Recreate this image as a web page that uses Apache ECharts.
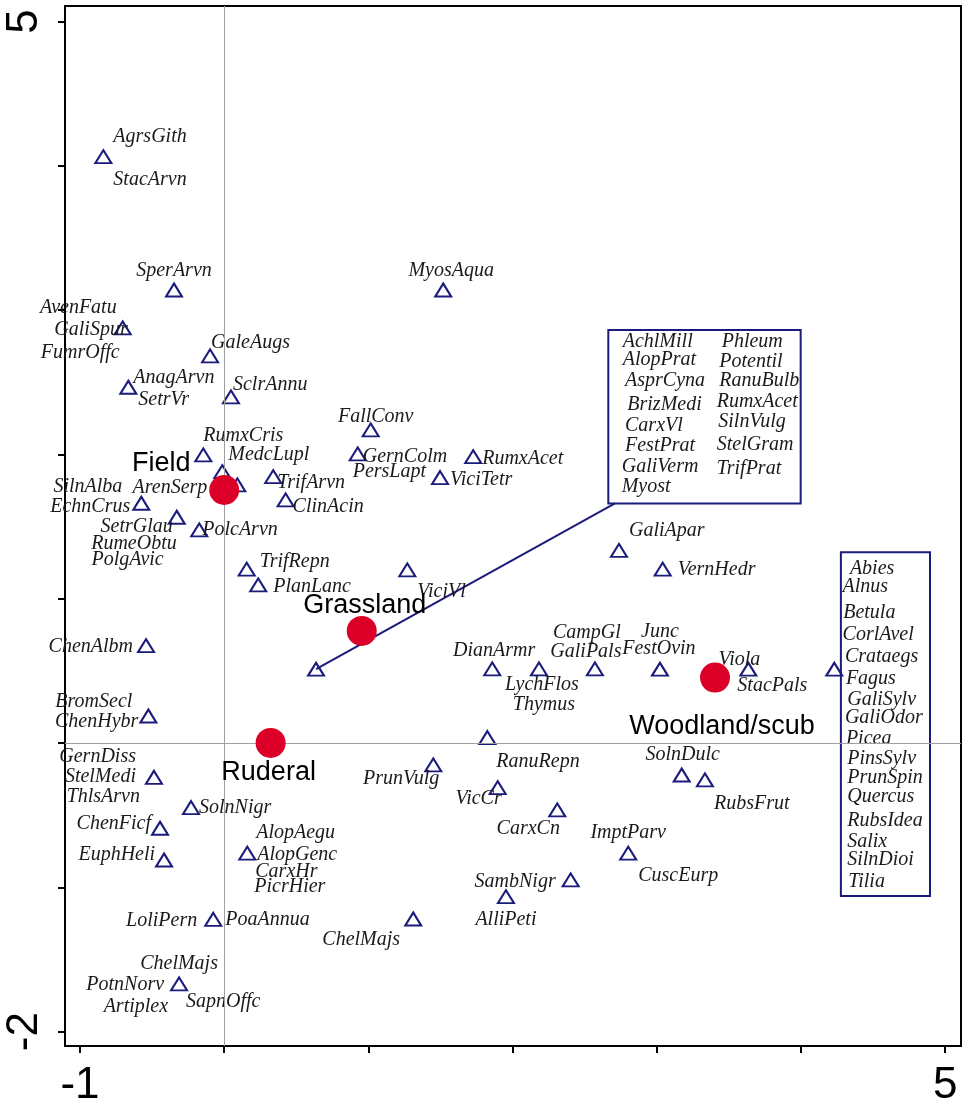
<!DOCTYPE html>
<html>
<head>
<meta charset="utf-8">
<script src="https://cdn.jsdelivr.net/npm/echarts@6/dist/echarts.min.js"></script>
<style>
html,body{margin:0;padding:0;background:#fff;}
#chart{width:967px;height:1108px;}
</style>
</head>
<body>
<div id="chart"></div>
<script>
// ---------------- DATA ----------------
// species points (ordination scores)
const speciesX = [-0.838,-0.348,-0.704,-0.098,-0.665,0.047,-0.145,-0.013,0.091,0.340,0.426,-0.575,-0.329,-0.173,0.156,0.236,-0.542,-0.526,0.637,1.519,1.016,0.926,1.727,1.497,1.270,2.738,3.041,1.859,2.183,2.571,3.022,3.635,4.231,1.825,1.450,1.897,2.310,2.802,2.403,1.954,1.311,3.173,3.334,-0.487,-0.230,-0.445,-0.417,0.160,-0.076,-0.313];
const speciesY = [4.063,3.139,2.876,2.682,2.465,2.398,1.996,1.880,1.788,1.845,1.684,1.661,1.564,1.476,1.204,1.095,0.674,0.187,0.511,3.139,2.169,2.003,1.984,1.839,1.199,1.334,1.204,0.513,0.513,0.513,0.511,0.511,0.511,0.037,-0.152,-0.310,-0.464,-0.764,-0.949,-1.065,-1.220,-0.222,-0.256,-0.238,-0.448,-0.591,-0.811,-0.764,-1.222,-1.670];
const speciesNames = [
 ['AgrsGith','StacArvn'],['SperArvn'],['AvenFatu','GaliSpur','FumrOffc'],['GaleAugs'],
 ['AnagArvn','SetrVr'],['SclrAnnu'],['RumxCris'],['MedcLupl'],['ArenSerp'],['TrifArvn'],
 ['ClinAcin'],['SilnAlba','EchnCrus'],['SetrGlau','RumeObtu','PolgAvic'],['PolcArvn'],
 ['TrifRepn'],['PlanLanc'],['ChenAlbm'],['BromSecl','ChenHybr'],[],['MyosAqua'],
 ['FallConv'],['GernColm','PersLapt'],['RumxAcet'],['ViciTetr'],['ViciVl'],['GaliApar'],
 ['VernHedr'],['DianArmr'],['LychFlos','Thymus'],['CampGl','GaliPals'],['Junc','FestOvin'],
 ['Viola','StacPals'],[],['RanuRepn'],['PrunVulg'],['VicCr'],['CarxCn'],['ImptParv','CuscEurp'],
 ['SambNigr'],['AlliPeti'],['ChelMajs'],['SolnDulc'],['RubsFrut'],['GernDiss','StelMedi','ThlsArvn'],
 ['SolnNigr'],['ChenFicf'],['EuphHeli'],['AlopAegu','AlopGenc','CarxHr','PicrHier'],
 ['LoliPern','PoaAnnua'],['ChelMajs','PotnNorv','Artiplex','SapnOffc']
];
// species groups listed in boxes
const grasslandGroupCol1 = ['AchlMill','AlopPrat','AsprCyna','BrizMedi','CarxVl','FestPrat','GaliVerm','Myost'];
const grasslandGroupCol2 = ['Phleum','Potentil','RanuBulb','RumxAcet','SilnVulg','StelGram','TrifPrat'];
const woodlandGroup = ['Abies','Alnus','Betula','CorlAvel','Crataegs','Fagus','GaliSylv','GaliOdor','Picea','PinsSylv','PrunSpin','Quercus','RubsIdea','Salix','SilnDioi','Tilia'];
const grasslandGroupPoint = 18; // index of point the grassland box refers to
// habitat centroids
const centroidNames = ['Field','Grassland','Ruderal','Woodland/scub'];
const centroidX = [0.0, 0.954, 0.322, 3.404];
const centroidY = [1.753, 0.776, 0.0, 0.453];
// tick labels
const xTickValues = [-1,0,1,2,3,4,5];
const xTickLabels = [-1,5];
const yTickValues = [-2,-1,0,1,2,3,4,5];
const yTickLabels = [-2,5];

// ---------------- LAYOUT (pixels / data extents) ----------------
const labelLayout = [
 [[10,-20,'l'],[10,23,'l']],[[0,-19,'c']],[[-6,-20,'r'],[5,2,'r'],[-3,25,'r']],[[1,-13,'l']],
 [[5,-10,'l'],[10,12,'l']],[[2,-12,'l']],[[0,-19,'l']],[[6,-17,'l']],[[-30,3,'r']],[[4,6,'l']],
 [[7,7,'l']],[[-19,-17,'r'],[-11,3,'r']],[[-4,9,'r'],[0,26,'r'],[-13,42,'r']],[[3,0,'l']],
 [[13,-7,'l']],[[15,2,'l']],[[-13,1,'r']],[[-16,-14,'r'],[-10,6,'r']],[],[[8,-19,'c']],
 [[5,-13,'c']],[[5,3,'l'],[-5,18,'l']],[[9,2,'l']],[[10,2,'l']],[[10,22,'l']],[[10,-20,'l']],
 [[15,1,'l']],[[2,-18,'c']],[[3,16,'c'],[5,36,'c']],[[-8,-36,'c'],[-9,-17,'c']],[[0,-37,'c'],[-1,-20,'c']],
 [[-9,-9,'c'],[-11,17,'l']],[],[[9,24,'l']],[[6,14,'r']],[[4,11,'r']],[[-29,19,'c']],[[0,-20,'c'],[10,23,'l']],
 [[-15,2,'r']],[[0,23,'c']],[[-52,21,'c']],[[1,-20,'c']],[[9,24,'l']],[[-18,-21,'r'],[-18,-1,'r'],[-14,19,'r']],
 [[8,0,'l']],[[-9,-4,'r']],[[-9,-5,'r']],[[9,-20,'l'],[10,2,'l'],[8,19,'l'],[7,34,'l']],
 [[-16,1,'r'],[12,0,'l']],[[0,-20,'c'],[-15,1,'r'],[-11,23,'r'],[7,18,'l']]
];
const grassBox = [2.664, 2.862, 3.998, 1.659];   // x1, yTop, x2, yBottom
const woodBox  = [4.277, 1.322, 4.895, -1.060];
const connectorStart = [2.710, 1.661];
const grassCol1Pos = [[14.4,11.7],[14.4,29.3],[16.7,51],[19,75],[16.7,96],[16.7,116],[13.4,136.7],[13.4,156.7]];
const grassCol2Pos = [[113.4,11.7],[111,31.7],[111,51],[108.4,71.7],[110,91.7],[108.4,114.3],[108.4,138.3]];
const woodPos = [[9,17],[1.7,34.4],[2.3,61],[1.7,82.7],[4,105],[5,127],[6.3,147.7],[4,166],[5,186.7],[6.3,207],[6.3,226],[6.3,244.4],[6.3,268.4],[6.3,289.4],[6.3,307.7],[7.3,329.4]];
const centroidLabelOffset = [[-63,-26],[3,-25],[-2,30],[7,49]];

const NAVY = '#1b1b7c';
const RED = '#dc0028';
const SERIF = '"Liberation Serif","Times New Roman",serif';
const SANS = '"Liberation Sans",Arial,sans-serif';
const alignMap = {l:'left', r:'right', c:'center'};

function txt(x, y, text, align) {
  return {type:'text', x:x, y:y, silent:true,
    style:{text:text, fill:'#1a1a1a', fontFamily:SERIF, fontStyle:'italic', fontSize:20,
      align:align, verticalAlign:'middle', textAlign:align, textVerticalAlign:'middle'}};
}

const chart = echarts.init(document.getElementById('chart'));
const option = {
  animation:false,
  backgroundColor:'#fff',
  grid:{left:65, top:6, right:6, bottom:62, show:true, borderColor:'#000', borderWidth:2,
        containLabel:false, outerBoundsMode:'none'},
  xAxis:{type:'value', min:-1.104, max:5.11,
    axisLine:{show:true, onZero:false, lineStyle:{color:'#000', width:2}},
    axisTick:{show:true, customValues:xTickValues, length:7, lineStyle:{color:'#000', width:2}},
    axisLabel:{show:true, customValues:xTickLabels, fontSize:44, fontFamily:SANS, color:'#000', margin:18,
      formatter:v=>String(Math.round(v))},
    splitLine:{show:false}},
  yAxis:{type:'value', min:-2.100, max:5.107,
    axisLine:{show:true, onZero:false, lineStyle:{color:'#000', width:2}},
    axisTick:{show:true, customValues:yTickValues, length:7, lineStyle:{color:'#000', width:2}},
    axisLabel:{show:true, customValues:yTickLabels, fontSize:44, fontFamily:SANS, color:'#000', margin:18, rotate:90,
      formatter:v=>String(Math.round(v))},
    splitLine:{show:false}},
  series:[
    { // boxes and connector
      type:'custom', silent:true, z:1,
      data:[[grassBox[0], grassBox[1]]],
      renderItem:function(params, api){
        const g1 = api.coord([grassBox[0], grassBox[1]]);
        const g2 = api.coord([grassBox[2], grassBox[3]]);
        const w1 = api.coord([woodBox[0], woodBox[1]]);
        const w2 = api.coord([woodBox[2], woodBox[3]]);
        const c1 = api.coord(connectorStart);
        const c2 = api.coord([speciesX[grasslandGroupPoint], speciesY[grasslandGroupPoint]]);
        const children = [
          {type:'rect', shape:{x:g1[0], y:g1[1], width:g2[0]-g1[0], height:g2[1]-g1[1]},
            style:{fill:'none', stroke:NAVY, lineWidth:2}},
          {type:'rect', shape:{x:w1[0], y:w1[1], width:w2[0]-w1[0], height:w2[1]-w1[1]},
            style:{fill:'none', stroke:NAVY, lineWidth:2}},
          {type:'line', shape:{x1:c1[0], y1:c1[1], x2:c2[0], y2:c2[1]},
            style:{stroke:NAVY, lineWidth:2}}
        ];
        grasslandGroupCol1.forEach((n,i)=>children.push(txt(g1[0]+grassCol1Pos[i][0], g1[1]+grassCol1Pos[i][1], n, 'left')));
        grasslandGroupCol2.forEach((n,i)=>children.push(txt(g1[0]+grassCol2Pos[i][0], g1[1]+grassCol2Pos[i][1], n, 'left')));
        woodlandGroup.forEach((n,i)=>children.push(txt(w1[0]+woodPos[i][0], w1[1]+woodPos[i][1], n, 'left')));
        return {type:'group', children:children};
      }
    },
    { // species triangles + zero lines
      type:'scatter', z:3,
      symbol:'triangle', symbolSize:[16,13],
      itemStyle:{color:'rgba(255,255,255,0)', borderColor:NAVY, borderWidth:2, opacity:1},
      emphasis:{disabled:true},
      data:speciesX.map((x,i)=>[x, speciesY[i]]),
      markLine:{silent:true, symbol:['none','none'], label:{show:false},
        lineStyle:{color:'#a0a0a0', width:1, type:'solid', opacity:1},
        emphasis:{disabled:true},
        data:[{xAxis:0},{yAxis:0}]}
    },
    { // species labels
      type:'custom', silent:true, z:4,
      data:speciesX.map((x,i)=>[x, speciesY[i], i]),
      encode:{x:0, y:1},
      renderItem:function(params, api){
        const i = api.value(2);
        const p = api.coord([api.value(0), api.value(1)]);
        const children = speciesNames[i].map((n,k)=>{
          const o = labelLayout[i][k];
          return txt(p[0]+o[0], p[1]+o[1], n, alignMap[o[2]]);
        });
        return {type:'group', children:children};
      }
    },
    { // centroids
      type:'scatter', z:5,
      symbol:'circle', symbolSize:30,
      itemStyle:{color:RED, opacity:1},
      emphasis:{disabled:true},
      data:centroidX.map((x,i)=>({value:[x, centroidY[i]], name:centroidNames[i],
        label:{show:true, position:'inside', offset:centroidLabelOffset[i], formatter:centroidNames[i],
          fontFamily:SANS, fontSize:27, color:'#000', opacity:1}}))
    }
  ]
};
chart.setOption(option);
</script>
</body>
</html>
